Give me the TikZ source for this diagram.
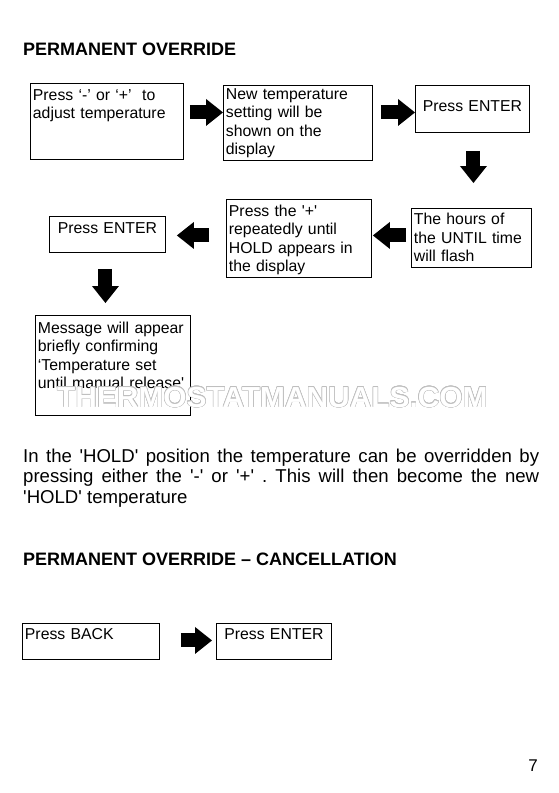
\documentclass[tikz,border=0pt]{standalone}
\usepackage{fontspec}
\setmainfont{Liberation Sans}
\usepackage{graphicx}
\usepackage{contour}
\usetikzlibrary{arrows.meta}
\newcommand{\sq}{\textquotesingle}
\newcommand{\boxfont}{\fontsize{15.8}{18.5}\selectfont}
\newcommand{\parafont}{\fontsize{18.6}{20.8}\selectfont\frenchspacing}
\newcommand{\headfont}{\fontsize{18}{21}\selectfont\bfseries}
\begin{document}
\begin{tikzpicture}[x=1pt,y=-1pt,
flowbox/.style n args={3}{draw,line width=0.9pt,anchor=north west,inner xsep=2.5pt,inner ysep=0pt,
  align=left,font=\boxfont,text width=#1pt,text height=#2pt,text depth=#3pt},
blockarrow/.style={line width=14pt,-{Triangle[length=17pt,width=27pt,line width=0pt]}},
heading/.style={anchor=base west,inner sep=0pt,font=\headfont}]
\fill[white] (0,0) rectangle (559,793);
\node[heading] (title) at (23,55) {PERMANENT OVERRIDE};

% first row
\node[flowbox={148}{17}{59}] (adjust) at (30,83) {Press ‘-’ or ‘+’\ \ to\\adjust temperature};
\node[flowbox={144}{14}{61}] (newset) at (223,85) {New temperature\\setting will be\\shown on the\\display};
\node[flowbox={109}{26}{21},align=center] (enter1) at (415,85) {Press ENTER};

% second row
\node[flowbox={115}{16.5}{42.5}] (hours) at (411,208) {The hours of\\the UNTIL time\\will flash};
\node[flowbox={140}{17}{61}] (plus) at (226,199) {Press the \sq+\sq\\repeatedly until\\HOLD appears in\\the display};
\node[flowbox={111}{17}{19},align=center] (enter2) at (49,216) {Press ENTER};
\node[flowbox={150}{18}{82}] (msg) at (35,315) {Message will appear\\briefly confirming\\‘Temperature set\\until manual release\sq};

\draw[blockarrow] ([xshift=6pt,yshift=9pt]adjust.east) -- ([yshift=10.5pt]newset.west);
\draw[blockarrow] ([xshift=8pt,yshift=10.5pt]newset.east) -- ([yshift=-3.5pt]enter1.west);
\draw[blockarrow] ([xshift=1pt,yshift=-18pt]enter1.south) -- ([xshift=2pt,yshift=25pt]hours.north);
\draw[blockarrow] ([xshift=-5pt,yshift=2.5pt]hours.west) -- ([xshift=1pt,yshift=3pt]plus.east);
\draw[blockarrow] ([xshift=-17pt,yshift=3pt]plus.west) -- ([xshift=11pt,yshift=-1pt]enter2.east);
\draw[blockarrow] ([xshift=-2pt,yshift=-16pt]enter2.south) -- ([xshift=-7.5pt,yshift=12pt]msg.north);

\node[anchor=base west,inner sep=0pt,font=\fontsize{29}{30}\selectfont\bfseries] (watermark) at (57,407)
  {\contourlength{0.45pt}\scalebox{1.03}[1]{\contour{black!25}{\textcolor{white}{THERMOSTATMANUALS.COM}}}};

\node[anchor=base west,inner sep=0pt,text width=516pt,align=justify,font=\parafont] (holdnote) at (23,462)
  {In the \sq HOLD\sq{} position the temperature can be overridden by\linebreak
   pressing either the \sq-\sq{} or \sq+\sq{} . This will then become the new\linebreak
   \sq HOLD\sq{} temperature};

\node[heading] (title2) at (23,565) {PERMANENT OVERRIDE – CANCELLATION};

% cancellation
\node[flowbox={132}{16}{20}] (back) at (22,623) {Press BACK};
\node[flowbox={110}{16}{20},align=center] (enter3) at (216,623) {Press ENTER};
\draw[blockarrow] ([xshift=21pt,yshift=1pt]back.east) -- ([xshift=-4pt,yshift=1pt]enter3.west);

\node[anchor=base east,inner sep=0pt,font=\fontsize{17}{20}\selectfont] (pageno) at (538,771) {7};
\end{tikzpicture}
\end{document}
